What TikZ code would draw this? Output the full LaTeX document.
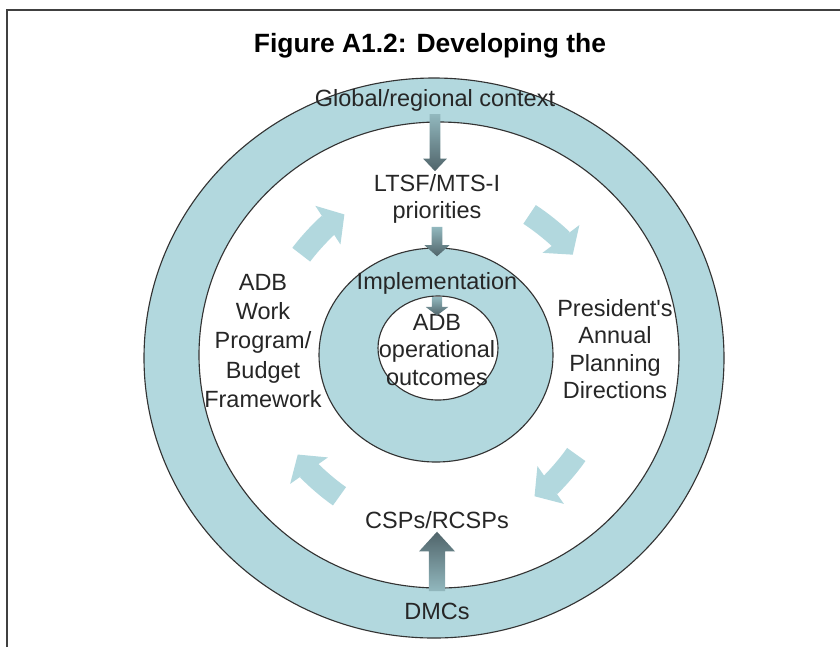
\documentclass[tikz,border=0pt]{standalone}
\usepackage{fontspec}
\setmainfont{Liberation Sans}
\usetikzlibrary{arrows.meta, calc}
\definecolor{ringblue}{RGB}{178,216,222}
\definecolor{flowlight}{RGB}{146,184,190}
\definecolor{flowdark}{RGB}{80,100,106}

% straight shaded block arrow from #2 to #3 (half shaft #4, half head #5, head length #6)
\newcommand{\flowarrow}[6]{%
  \shade[#1] let \p1=(#2), \p2=(#3), \p3=($(#3)!#6!(#2)$) in
    (\x1-#4,\y1) -- (\x1+#4,\y1) -- (\x1+#4,\y3) -- (\x1+#5,\y3)
    -- (\x1,\y2) -- (\x1-#5,\y3) -- (\x1-#4,\y3) -- cycle;}

\begin{document}
\begin{tikzpicture}[x=0.025cm, y=0.025cm,
  font=\fontsize{16.7}{19.6}\selectfont, text=black!85,
  lbl/.style={align=center, inner sep=2pt},
  ringline/.style={draw=black!80, line width=0.8pt},
  cyclearrow/.style={ringblue, line width=16pt, -{Triangle[length=14pt, width=32pt]}},
  downflow/.style={top color=flowlight, bottom color=flowdark},
  upflow/.style={top color=flowdark, bottom color=flowlight}]
  \useasboundingbox (0,0) rectangle (840,-647);
  \draw[black!75, line width=1.6pt] (7,-647) -- (7,-10) -- (840,-10);

  % rings
  \draw[ringline, fill=ringblue] (434,-358) ellipse [x radius=290, y radius=280];
  \draw[ringline, fill=white]    (439,-355) ellipse [x radius=240, y radius=233];
  \draw[ringline, fill=ringblue] (436,-355) ellipse [x radius=117, y radius=107];
  \draw[ringline, fill=white]    (438,-348) ellipse [x radius=60, y radius=52];

  % cycle arrows in the white ring
  \coordinate (ctr) at (437,-357);
  \foreach \a in {133,47,-45,-135}
    \draw[cyclearrow] ($(ctr)+(\a+10:170)$) arc[start angle=\a+10, end angle=\a-10, radius=170];

  \node[font=\fontsize{18.8}{22}\selectfont\bfseries, text=black] (title) at (430,-46) {Figure A1.2: Developing the};
  \node[lbl] (glob) at (435,-100) {Global/regional context};
  \node[lbl] (ltsf) at (437,-199) {LTSF/MTS-I\\priorities};
  \node[lbl] (impl) at (437,-283) {Implementation};
  \node[lbl] (outc) at (437,-350) {ADB\\operational\\outcomes};
  \node[lbl, font=\fontsize{16.7}{20.8}\selectfont] (work) at (263,-341) {ADB\\Work\\Program/\\Budget\\Framework};
  \node[lbl] (pres) at (615,-349) {President\textquotesingle s\\Annual\\Planning\\Directions};
  \node[lbl] (csps) at (437,-520) {CSPs/RCSPs};
  \node[lbl] (dmcs) at (437,-611) {DMCs};

  \coordinate (implTop) at ([yshift=9pt]impl.north);
  \coordinate (outcTop) at ([yshift=-3pt]outc.north);
  \coordinate (dmcsTop) at ([yshift=6pt]dmcs.north);
  \flowarrow{downflow}{glob.south}{ltsf.north}{3.9pt}{8.5pt}{9pt}
  \flowarrow{downflow}{ltsf.south}{implTop}{3.9pt}{9pt}{8pt}
  \flowarrow{downflow}{impl.south}{outcTop}{3.6pt}{8pt}{6pt}
  \flowarrow{upflow}{dmcsTop}{csps.south}{5.7pt}{12.8pt}{14pt}
\end{tikzpicture}
\end{document}
